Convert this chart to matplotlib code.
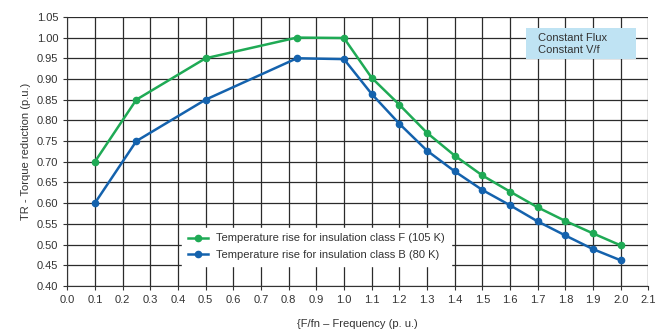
import matplotlib
matplotlib.use("Agg")
import matplotlib.pyplot as plt
from matplotlib.patches import Rectangle

plt.rcParams["font.family"] = ["Liberation Sans", "DejaVu Sans"]

freq_f = [0.1, 0.25, 0.5, 0.83, 1.0, 1.1, 1.2, 1.3, 1.4, 1.5, 1.6, 1.7, 1.8, 1.9, 2.0]
tr_class_f = [0.70, 0.85, 0.95, 1.00, 0.999, 0.903, 0.838, 0.770, 0.715, 0.667, 0.628, 0.590, 0.557, 0.527, 0.498]
freq_b = [0.1, 0.25, 0.5, 0.83, 1.0, 1.1, 1.2, 1.3, 1.4, 1.5, 1.6, 1.7, 1.8, 1.9, 2.0]
tr_class_b = [0.60, 0.75, 0.85, 0.95, 0.948, 0.864, 0.792, 0.727, 0.677, 0.632, 0.595, 0.556, 0.522, 0.489, 0.462]

x_ticks = [i / 10 for i in range(22)]
y_ticks = [0.40 + i * 0.05 for i in range(14)]

GREEN = "#1faa55"
BLUE = "#1462ad"

fig = plt.figure(figsize=(6.65, 3.31), dpi=100)
ax = fig.add_axes([0.101, 0.136, 0.874, 0.813])

ax.plot(freq_f, tr_class_f, color=GREEN, marker="o", markersize=4.5, linewidth=1.8,
        label="Temperature rise for insulation class F (105 K)")
ax.plot(freq_b, tr_class_b, color=BLUE, marker="o", markersize=4.5, linewidth=1.8,
        label="Temperature rise for insulation class B (80 K)")

ax.set_xlim(0, 2.1)
ax.set_ylim(0.40, 1.05)
ax.set_xticks(x_ticks)
ax.set_yticks(y_ticks)
ax.set_xticklabels([f"{v:.1f}" for v in x_ticks])
ax.set_yticklabels([f"{v:.2f}" for v in y_ticks])
ax.tick_params(labelsize=8, length=3, width=0.8, color="#333333", labelcolor="#333333")
ax.grid(True, color="#2b2b2b", linewidth=0.9)
ax.set_axisbelow(True)
for side in ["top", "right"]:
    ax.spines[side].set_visible(False)
for side in ["left", "bottom"]:
    ax.spines[side].set_color("#333333")

ax.set_xlabel("{F/fn – Frequency (p. u.)", fontsize=8, color="#333333", labelpad=10)
ax.set_ylabel("TR - Torque reduction (p.u.)", fontsize=8, color="#333333")

leg = ax.legend(loc="lower left", bbox_to_anchor=(0.188, 0.055), fontsize=8, frameon=True,
                fancybox=False, framealpha=1, edgecolor="white", handlelength=1.8,
                borderpad=0.5, labelspacing=0.6)
for t in leg.get_texts():
    t.set_color("#333333")

# note box, top right
ax.add_patch(Rectangle((0.79, 0.844), 0.188, 0.115, transform=ax.transAxes,
                       facecolor="#bfe3f3", edgecolor="none", zorder=3))
ax.text(0.81, 0.90, "Constant Flux\nConstant V/f", transform=ax.transAxes, fontsize=8,
        color="#333333", va="center", ha="left", linespacing=1.3, zorder=4)

fig.savefig("out.png", dpi=100)
